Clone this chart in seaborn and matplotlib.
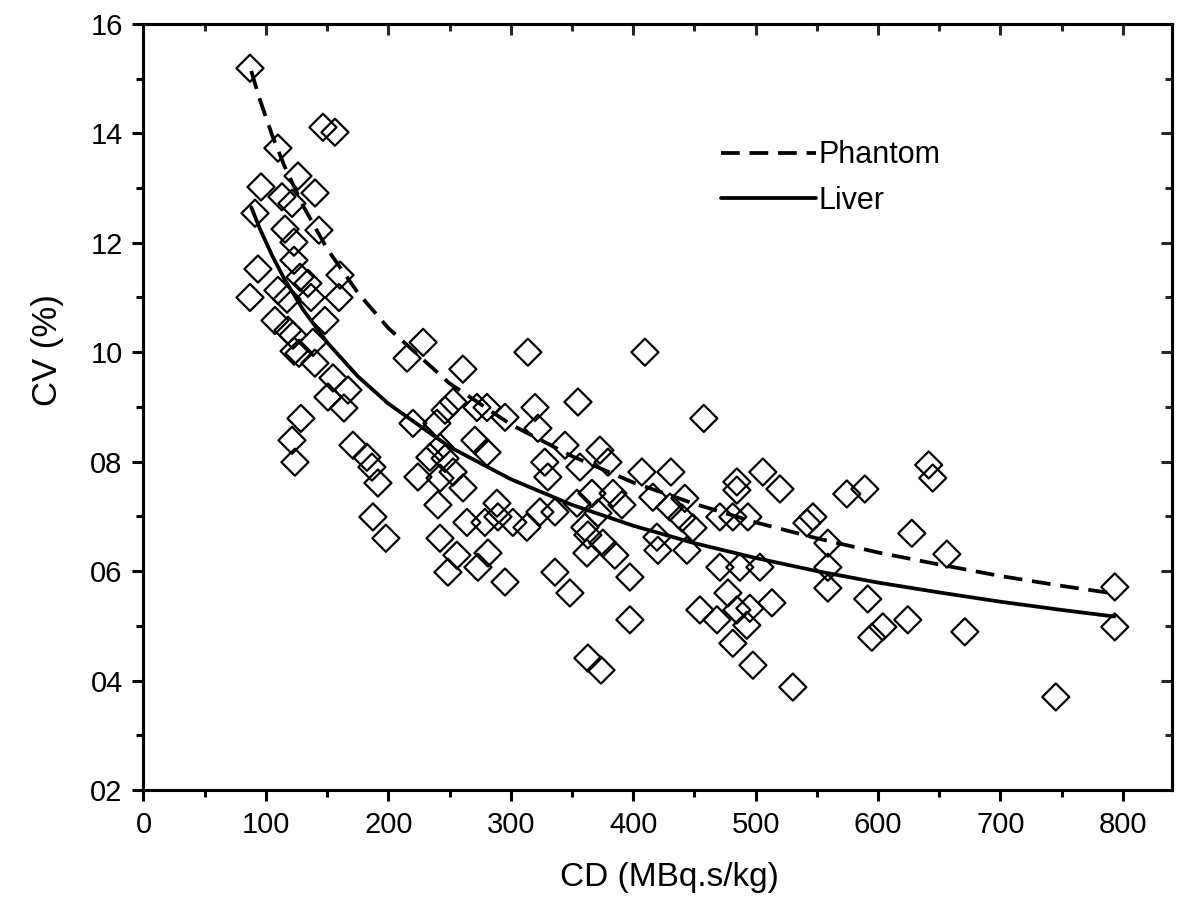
import numpy as np
import pandas as pd
import matplotlib
matplotlib.use('Agg')
import matplotlib.pyplot as plt
import seaborn as sns
from matplotlib.ticker import MultipleLocator

# measured points (CD, CV)
cd = [87.0, 146.6, 156.4, 109.8, 126.2, 96.0, 140.1, 113.1, 121.3, 91.1,
      115.6, 143.3, 122.9, 122.9, 93.5, 127.8, 160.5, 134.3, 109.8, 87.0,
      117.2, 136.8, 159.7, 107.4, 148.2, 118.0, 122.1, 123.0, 127.0, 138.4,
      140.0, 154.8, 167.0, 150.7, 163.7, 128.6, 121.3, 123.7, 171.1, 228.4,
      215.3, 314.0, 260.9, 252.9, 246.3, 272.4, 280.6, 295.3, 319.8, 354.9,
      322.2, 220.1, 239.7, 270.7, 280.6, 344.3, 182.5, 186.6, 191.5, 187.4,
      198.0, 233.9, 246.3, 242.2, 252.9, 224.2, 242.2, 261.0, 327.8, 330.3,
      356.5, 240.5, 264.2, 278.9, 288.7, 289.5, 301.7, 313.2, 323.8, 336.1,
      354.1, 242.2, 256.0, 281.4, 248.7, 273.2, 295.3, 336.1, 348.3, 360.5,
      362.2, 409.6, 457.7, 372.8, 379.4, 407.1, 430.8, 366.3, 383.5, 390.8,
      416.1, 442.2, 430.0, 484.7, 484.7, 505.9, 519.9, 546.8, 541.9, 470.8,
      481.4, 493.7, 559.0, 439.8, 448.8, 371.2, 419.4, 420.2, 443.9, 375.2,
      385.0, 363.0, 470.8, 487.1, 503.5, 559.0, 559.0, 397.3, 477.4, 454.5,
      468.4, 484.7, 495.3, 513.3, 492.8, 481.4, 397.3, 497.8, 530.4, 363.0,
      373.7, 641.4, 644.7, 574.5, 589.2, 627.6, 656.2, 591.6, 603.9, 594.9,
      624.3, 670.9, 793.4, 793.4, 745.2]
cv = [15.19, 14.11, 14.02, 13.73, 13.22, 13.02, 12.91, 12.84, 12.72, 12.54,
      12.25, 12.23, 12.01, 11.68, 11.52, 11.37, 11.41, 11.26, 11.13, 11.00,
      10.97, 11.00, 11.00, 10.58, 10.58, 10.40, 10.31, 10.02, 9.98, 10.18,
      9.80, 9.53, 9.31, 9.18, 8.98, 8.79, 8.39, 7.99, 8.30, 10.18,
      9.89, 10.00, 9.69, 9.09, 8.94, 8.99, 8.99, 8.81, 8.99, 9.09,
      8.61, 8.70, 8.70, 8.39, 8.17, 8.30, 8.08, 7.90, 7.61, 6.99,
      6.60, 8.08, 8.06, 8.26, 7.81, 7.72, 7.70, 7.52, 7.99, 7.72,
      7.90, 7.21, 6.89, 6.89, 7.24, 6.99, 6.89, 6.80, 7.08, 7.08,
      7.24, 6.60, 6.29, 6.33, 5.98, 6.07, 5.80, 5.98, 5.60, 6.80,
      6.33, 10.00, 8.79, 8.21, 7.99, 7.81, 7.81, 7.42, 7.42, 7.21,
      7.35, 7.33, 7.17, 7.63, 7.48, 7.81, 7.50, 6.99, 6.88, 6.99,
      6.99, 6.99, 6.51, 6.97, 6.79, 7.06, 6.62, 6.38, 6.38, 6.51,
      6.29, 6.66, 6.07, 6.07, 6.07, 6.07, 5.69, 5.89, 5.60, 5.29,
      5.11, 5.29, 5.32, 5.42, 5.01, 4.68, 5.11, 4.28, 3.88, 4.41,
      4.19, 7.94, 7.70, 7.41, 7.50, 6.69, 6.31, 5.49, 4.98, 4.79,
      5.11, 4.89, 5.71, 4.98, 3.70]

# fitted curves
fit_cd = [88, 95, 105, 115, 130, 150, 175, 200, 250, 300, 350, 400,
          450, 500, 550, 600, 650, 700, 750, 793]
phantom_cv = [15.14, 14.62, 13.97, 13.41, 12.69, 11.89, 11.09, 10.44, 9.43, 8.68,
              8.10, 7.62, 7.23, 6.89, 6.60, 6.34, 6.12, 5.91, 5.73, 5.59]
liver_cv = [12.65, 12.26, 11.77, 11.34, 10.79, 10.18, 9.56, 9.06, 8.27, 7.68,
            7.21, 6.83, 6.51, 6.24, 6.00, 5.79, 5.61, 5.44, 5.29, 5.17]

yticks = [2, 4, 6, 8, 10, 12, 14, 16]
ytick_labels = ['02', '04', '06', '08', '10', '12', '14', '16']

pts = pd.DataFrame({'CD': cd, 'CV': cv})
fits = pd.DataFrame({'CD': fit_cd * 2,
                     'CV': phantom_cv + liver_cv,
                     'fit': ['Phantom'] * len(fit_cd) + ['Liver'] * len(fit_cd)})

sns.set_style('ticks')
plt.rcParams['font.family'] = ['Liberation Sans', 'DejaVu Sans']
plt.rcParams['text.color'] = 'black'
plt.rcParams['axes.labelcolor'] = 'black'

fig = plt.figure(figsize=(11.82, 9.19), dpi=100)
ax = fig.add_axes([0.1214, 0.1404, 0.870, 0.8336])

sns.scatterplot(data=pts, x='CD', y='CV', marker='D', s=190,
                facecolor='none', edgecolor='black', linewidth=1.6, ax=ax, zorder=2)
sns.lineplot(data=fits[fits.fit == 'Phantom'], x='CD', y='CV', color='black',
             lw=2.7, ax=ax, label='Phantom', zorder=3)
sns.lineplot(data=fits[fits.fit == 'Liver'], x='CD', y='CV', color='black',
             lw=2.7, ax=ax, label='Liver', zorder=3)
ax.lines[0].set_dashes([5, 2.6])

ax.set_xlim(0, 840)
ax.set_ylim(2, 16)
ax.set_xticks(range(0, 801, 100))
ax.xaxis.set_minor_locator(MultipleLocator(50))
ax.set_yticks(yticks)
ax.set_yticklabels(ytick_labels)
ax.yaxis.set_minor_locator(MultipleLocator(1))

for s in ax.spines.values():
    s.set_linewidth(2.2)
    s.set_color('black')
ax.tick_params(which='both', direction='out', top=False, right=False,
               width=2.2, labelsize=21, colors='black')
ax.tick_params(which='major', length=8, pad=7)
ax.tick_params(which='minor', length=5)

# inward ticks on top and right, no labels
sec_x = ax.secondary_xaxis('top')
sec_x.set_xticks(range(0, 801, 100))
sec_x.xaxis.set_minor_locator(MultipleLocator(50))
sec_x.tick_params(which='both', direction='in', labeltop=False, width=2.2)
sec_x.tick_params(which='major', length=8)
sec_x.tick_params(which='minor', length=5)
sec_y = ax.secondary_yaxis('right')
sec_y.set_yticks(yticks)
sec_y.yaxis.set_minor_locator(MultipleLocator(1))
sec_y.tick_params(which='both', direction='in', labelright=False, width=2.2)
sec_y.tick_params(which='major', length=8)
sec_y.tick_params(which='minor', length=5)
for sa in (sec_x, sec_y):
    for s in sa.spines.values():
        s.set_linewidth(2.2)

ax.set_xlabel('CD (MBq.s/kg)', fontsize=24)
ax.set_ylabel('CV (%)', fontsize=25)
ax.xaxis.set_label_coords(0.511, -0.094)
ax.yaxis.set_label_coords(-0.077, 0.574)

leg = ax.legend(loc='upper left', bbox_to_anchor=(0.535, 0.884), frameon=False,
                fontsize=22, handlelength=3.1, handletextpad=0.1, labelspacing=0.5)
for h in leg.get_lines():
    h.set_linewidth(2.7)

fig.savefig('out.png', dpi=100)
